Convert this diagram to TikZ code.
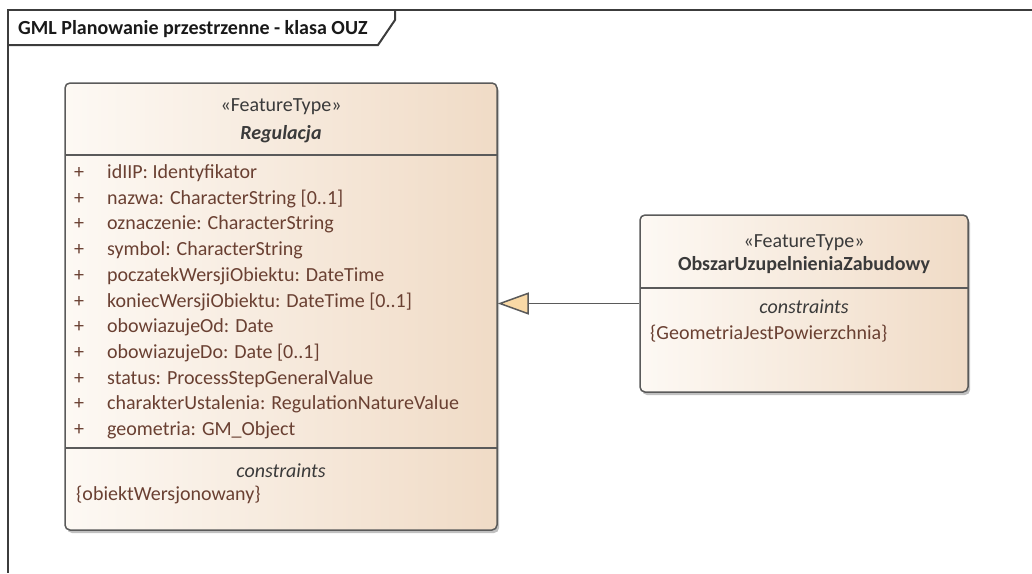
\documentclass[tikz,border=0pt]{standalone}
\usepackage{fontspec}
\setmainfont{Carlito}
\usetikzlibrary{arrows.meta,shadows}
\definecolor{frameline}{HTML}{3C3C3C}
\definecolor{boxline}{HTML}{5A5A5A}
\definecolor{attr}{HTML}{6A4032}
\definecolor{hdr}{HTML}{3A3A3A}
\definecolor{fillL}{HTML}{FDF9F4}
\definecolor{fillR}{HTML}{F0DBC6}
\definecolor{arrowfill}{HTML}{F9D9A6}
\begin{document}
\begin{tikzpicture}[x=1pt,y=-1pt,
  classbox/.style={draw=boxline, line width=1.5pt, rounded corners=5pt,
    left color=fillL, right color=fillR,
    drop shadow={shadow xshift=2pt,shadow yshift=-3pt,fill=black!55,opacity=0.45},
    inner sep=0pt},
  txt/.style={font=\fontsize{20}{24}\selectfont, inner sep=0pt},
  stereo/.style={txt, text=hdr, anchor=base},
  cname/.style={txt, text=hdr, anchor=base, font=\fontsize{20}{24}\selectfont\bfseries},
  cons/.style={txt, text=hdr, anchor=base, font=\fontsize{20}{24}\selectfont\itshape},
  attrtxt/.style={txt, text=attr, anchor=base west},
  plus/.style={txt, text=attr, anchor=base},
  sep/.style={draw=boxline, line width=1.5pt},
  gen/.style={draw=boxline, line width=1.5pt, -{Triangle[length=31pt,width=22pt,fill=arrowfill]}},
]
\useasboundingbox (0,0) rectangle (1032,573);
% frame
\draw[frameline, line width=2pt] (1032,10) -- (8,10) -- (8,573);
\draw[frameline, line width=2pt] (8,45) -- (378,45) -- (395,20) -- (395,10);
\node[txt, anchor=base west, font=\fontsize{20}{24}\selectfont\bfseries, text=black!90] (title) at (18,34.5) {GML Planowanie przestrzenne - klasa OUZ};

% Regulacja
\node[classbox, minimum width=432pt, minimum height=447pt] (reg) at (281,306.5) {};
\node[stereo] (regst) at (281,111.5) {«FeatureType»};
\node[cname, font=\fontsize{20}{24}\selectfont\bfseries\itshape] (regnm) at (281,139.5) {Regulacja};
\draw[sep] (65,155) -- (497,155);
\foreach \t [count=\i from 0] in {{idIIP: Identyfikator},{nazwa: CharacterString [0..1]},{oznaczenie: CharacterString},{symbol: CharacterString},{poczatekWersjiObiektu: DateTime},{koniecWersjiObiektu: DateTime [0..1]},{obowiazujeOd: Date},{obowiazujeDo: Date [0..1]},{status: ProcessStepGeneralValue},{charakterUstalenia: RegulationNatureValue},{geometria: GM\_Object}}{
  \node[plus] (p\i) at (79,{178.5+25.7*\i}) {+};
  \node[attrtxt] (a\i) at (107,{178.5+25.7*\i}) {\t};
}
\draw[sep] (65,448) -- (497,448);
\node[cons] (regc) at (281,477.5) {constraints};
\node[txt, text=attr, anchor=base west] (regcv) at (76,500.5) {\{obiektWersjonowany\}};

% ObszarUzupelnieniaZabudowy
\node[classbox, minimum width=328pt, minimum height=177pt] (obs) at (804,303.5) {};
\node[stereo] (obsst) at (804,247.5) {«FeatureType»};
\node[cname] (obsnm) at (804,270.5) {ObszarUzupelnieniaZabudowy};
\draw[sep] (640,288) -- (968,288);
\node[cons] (obsc) at (804,313.5) {constraints};
\node[txt, text=attr, anchor=base west] (obscv) at (650,339.5) {\{GeometriaJestPowierzchnia\}};

% generalization
\draw[gen] (obs.west) -- (obs.west -| reg.east);
\end{tikzpicture}
\end{document}
